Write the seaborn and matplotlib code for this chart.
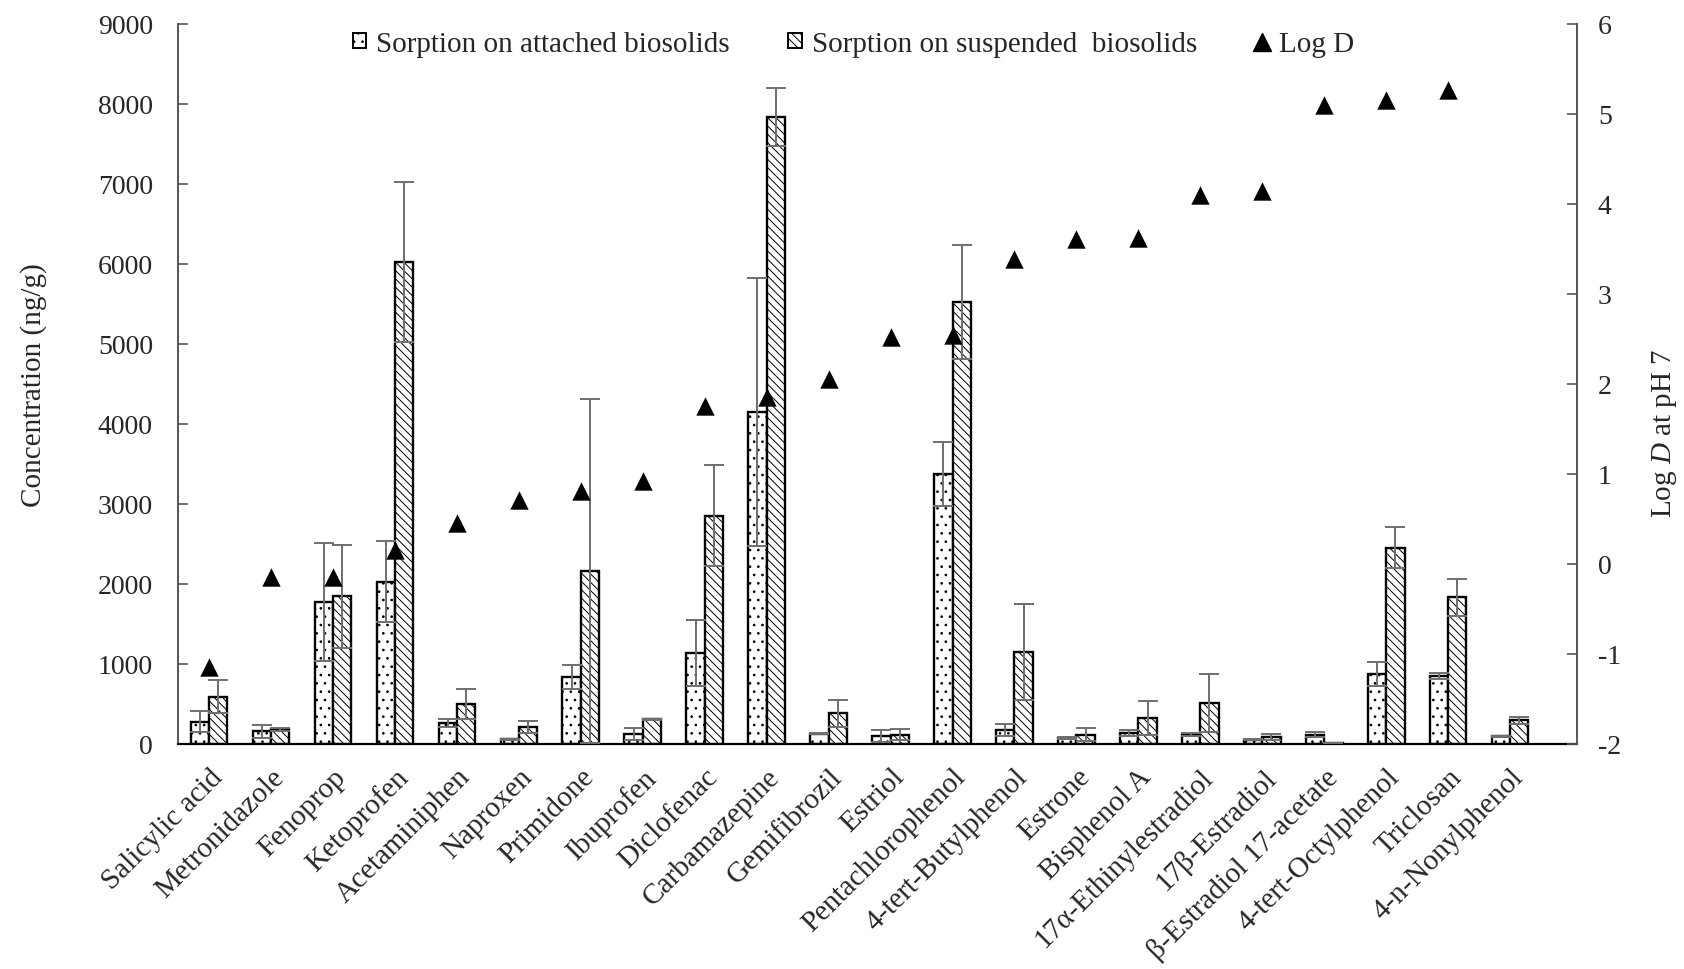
import numpy as np
import pandas as pd
import matplotlib
matplotlib.use("Agg")
import matplotlib.pyplot as plt
from matplotlib.patches import Patch
from matplotlib.lines import Line2D
from matplotlib.container import BarContainer
import seaborn as sns

# ---------------- data ----------------
categories = ["Salicylic acid", "Metronidazole", "Fenoprop", "Ketoprofen",
              "Acetaminiphen", "Naproxen", "Primidone", "Ibuprofen",
              "Diclofenac", "Carbamazepine", "Gemifibrozil", "Estriol",
              "Pentachlorophenol", "4-tert-Butylphenol", "Estrone",
              "Bisphenol A", "17α-Ethinylestradiol", "17β-Estradiol",
              "β-Estradiol 17-acetate", "4-tert-Octylphenol", "Triclosan",
              "4-n-Nonylphenol"]

attached = [278, 158, 1775, 2028, 261, 58, 842, 129, 1136, 4150, 129, 100,
            3375, 178, 71, 141, 116, 54, 116, 871, 850, 95]
attached_sd = [130, 80, 740, 505, 50, 10, 150, 75, 415, 1670, 10, 80,
               395, 75, 10, 37, 20, 5, 35, 150, 35, 10]
suspended = [593, 183, 1845, 6020, 498, 207, 2156, 307, 2855, 7840, 381, 116,
             5522, 1149, 116, 323, 514, 87, 17, 2455, 1833, 295]
suspended_sd = [210, 15, 645, 1000, 185, 75, 2150, 10, 635, 365, 170, 65,
                710, 600, 80, 210, 360, 40, 0, 260, 230, 40]
log_d = [-1.14, -0.15, -0.15, 0.16, 0.45, 0.71, 0.81, 0.92, 1.75, 1.86, 2.06,
         2.52, 2.54, 3.39, 3.61, 3.62, 4.10, 4.14, 5.10, 5.16, 5.27, np.nan]

series_names = ["Sorption on attached biosolids",
                "Sorption on suspended  biosolids"]
logd_name = "Log D"

left_ticks = [0, 1000, 2000, 3000, 4000, 5000, 6000, 7000, 8000, 9000]
right_ticks = [-2, -1, 0, 1, 2, 3, 4, 5, 6]

# ---------------- style ----------------
sns.set_theme(style="white")
plt.rcParams["font.family"] = ["Liberation Serif", "DejaVu Serif"]
plt.rcParams["mathtext.fontset"] = "custom"
plt.rcParams["mathtext.rm"] = "Liberation Serif"
plt.rcParams["mathtext.it"] = "Liberation Serif:italic"
plt.rcParams["hatch.linewidth"] = 0.7
plt.rcParams["hatch.color"] = "black"

hatches = ["..", "\\\\\\\\"]
axis_grey = "#555555"
err_grey = "#6f6f6f"

df = pd.DataFrame({
    "compound": categories * 2,
    "value": attached + suspended,
    "series": [series_names[0]] * len(categories) + [series_names[1]] * len(categories),
})

fig = plt.figure(figsize=(16.84, 9.70), dpi=100)
ax = fig.add_axes([0.1057, 0.2320, 0.8308, 0.7423])

sns.barplot(data=df, x="compound", y="value", hue="series",
            order=categories, hue_order=series_names,
            palette=["white", "white"], saturation=1,
            edgecolor="black", linewidth=1.7, width=0.59, gap=0,
            errorbar=None, legend=False, ax=ax, zorder=2)

errs = [attached_sd, suspended_sd]
vals = [attached, suspended]
bar_conts = [c for c in list(ax.containers) if isinstance(c, BarContainer)]
for k, cont in enumerate(bar_conts):
    xs = []
    for p in cont.patches:
        p.set_hatch(hatches[k])
        p.set_facecolor("white")
        p.set_edgecolor("black")
        xs.append(p.get_x() + p.get_width() / 2)
    ax.errorbar(xs, vals[k], yerr=errs[k], fmt="none", ecolor=err_grey,
                elinewidth=1.4, capsize=7, capthick=1.4, zorder=3)

ax.set_xlim(-0.5, 22.08)
ax.set_ylim(0, 9000)
ax.set_yticks(left_ticks)
ax.set_yticklabels([str(t) for t in left_ticks])
ax.set_xlabel("")
ax.set_ylabel("Concentration (ng/g)", fontsize=21)
ax.yaxis.set_label_coords(-0.0936, 0.5)

ax.tick_params(axis="y", direction="in", length=7, width=1.2, color=axis_grey,
               labelsize=20, pad=18)
ax.tick_params(axis="x", length=0, pad=14)
for lab in ax.get_xticklabels():
    lab.set_rotation(45)
    lab.set_ha("right")
    lab.set_va("top")
    lab.set_rotation_mode("anchor")
    lab.set_fontsize(21)

ax.spines["top"].set_visible(False)
ax.spines["left"].set_color(axis_grey)
ax.spines["left"].set_linewidth(1.4)
ax.spines["bottom"].set_color("black")
ax.spines["bottom"].set_linewidth(1.6)
ax.spines["right"].set_visible(False)

# secondary axis with Log D
ax2 = ax.twinx()
xpos = np.arange(len(categories))
sns.scatterplot(x=xpos, y=log_d, marker="^", s=175, color="black",
                edgecolor="black", linewidth=0, ax=ax2, legend=False, zorder=5)
ax2.set_ylim(-2, 6)
ax2.set_yticks(right_ticks)
ax2.set_yticklabels([str(t) for t in right_ticks])
ax2.set_xlim(-0.5, 22.08)
ax2.tick_params(axis="y", direction="in", length=7, width=1.2, color=axis_grey,
                labelsize=20, pad=15)
ax2.set_ylabel("Log $\\it{D}$ at pH 7", fontsize=21, rotation=90)
ax2.yaxis.set_label_coords(1.052, 0.433)
ax2.spines["top"].set_visible(False)
ax2.spines["left"].set_visible(False)
ax2.spines["bottom"].set_visible(False)
ax2.spines["right"].set_color(axis_grey)
ax2.spines["right"].set_linewidth(1.4)
ax2.grid(False)
ax.grid(False)

handles = [
    Patch(facecolor="white", edgecolor="black", hatch=hatches[0], linewidth=1.4),
    Patch(facecolor="white", edgecolor="black", hatch=hatches[1], linewidth=1.4),
    Line2D([0], [0], marker="^", color="black", linestyle="none", markersize=13),
]
leg = fig.legend(handles, series_names + [logd_name], loc="center",
                 bbox_to_anchor=(0.5068, 0.9536), ncol=3, frameon=False,
                 fontsize=21, handlelength=0.45, handleheight=0.45,
                 handletextpad=0.35, columnspacing=2.0, borderaxespad=0)

fig.savefig("out.png", dpi=100)
